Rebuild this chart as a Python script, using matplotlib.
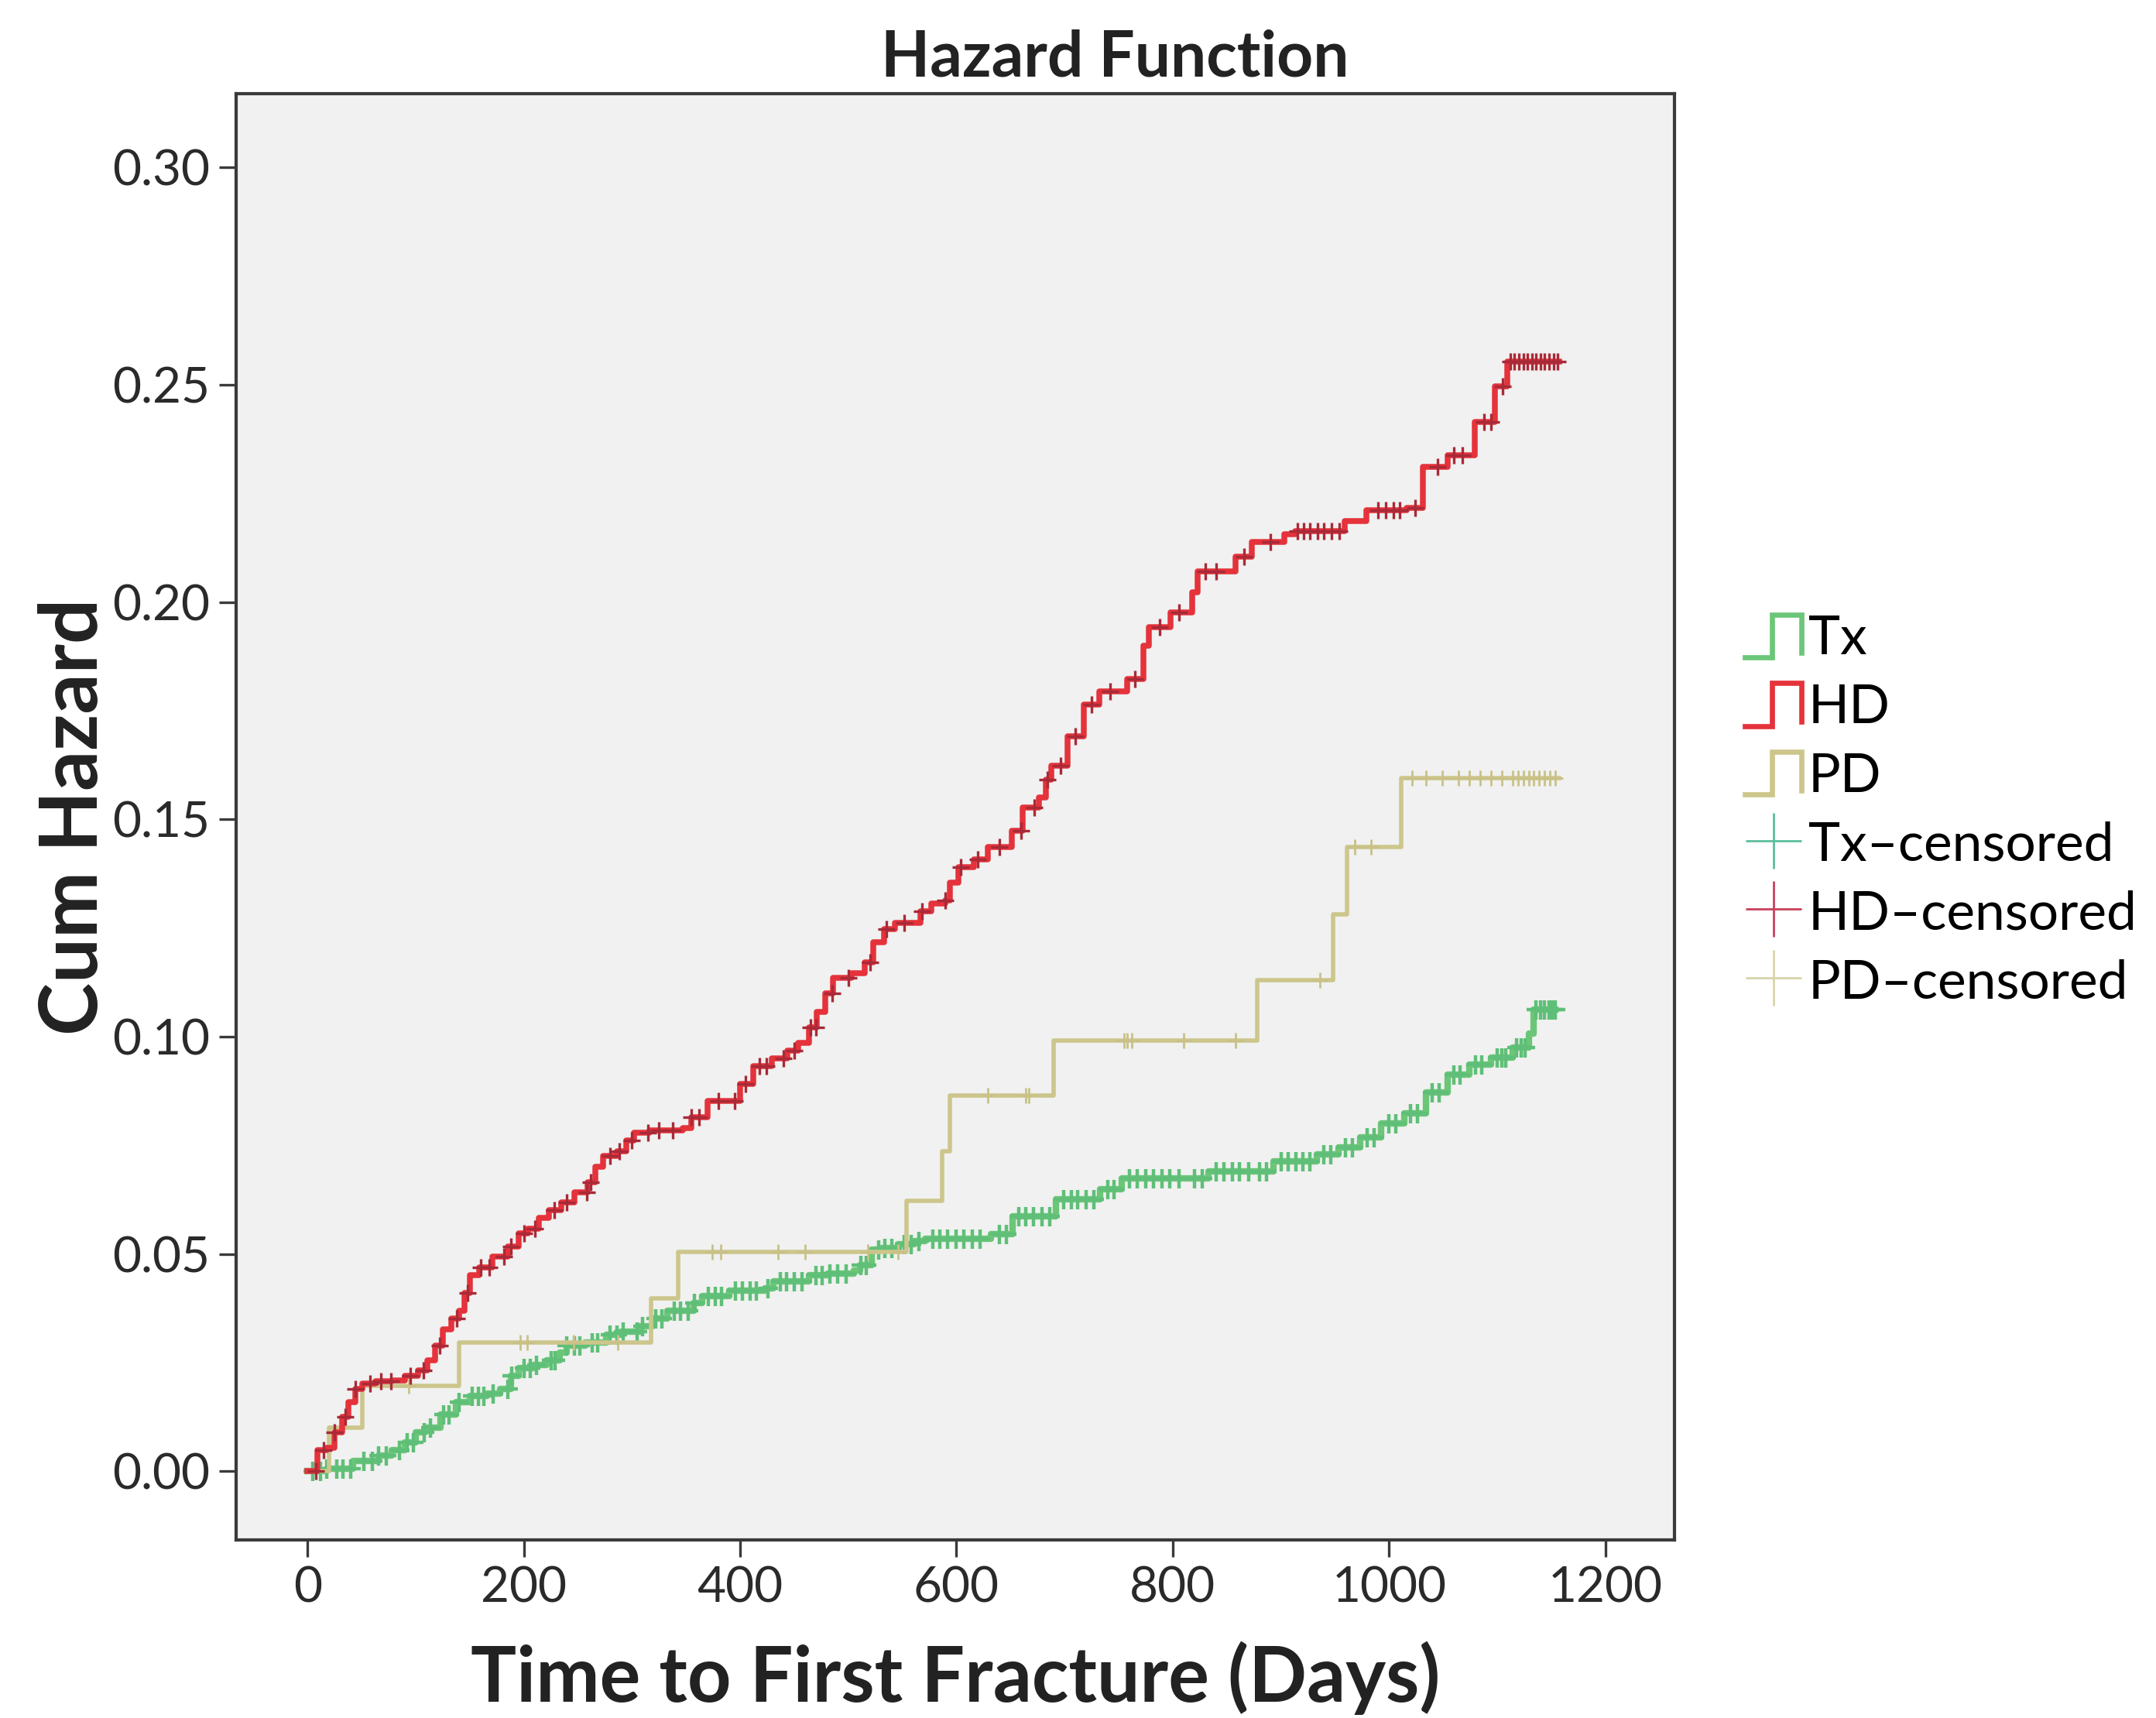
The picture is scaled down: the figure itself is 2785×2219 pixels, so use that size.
import numpy as np
import matplotlib
matplotlib.use("Agg")
import matplotlib.pyplot as plt
from matplotlib.lines import Line2D
from matplotlib.legend_handler import HandlerBase

# Step points (day, cumulative hazard)
tx_t = [0, 18, 42, 66, 78, 90, 100, 109, 123, 137, 150, 166, 178, 188, 195, 209, 221, 233, 240,
        257, 276, 290, 307, 319, 333, 357, 365, 390, 423, 431, 464, 481, 505, 511, 522, 531,
        546, 561, 571, 632, 652, 692, 733, 753, 833, 893, 933, 953, 973, 993, 1014, 1034, 1054,
        1074, 1094, 1114, 1129, 1134, 1154]
tx_h = [0, 0.0006, 0.0024, 0.0036, 0.0048, 0.0066, 0.0089, 0.0101, 0.0130, 0.0160, 0.0173,
        0.0178, 0.0190, 0.0220, 0.0237, 0.0244, 0.0255, 0.0273, 0.0290, 0.0297, 0.0315, 0.0321,
        0.0333, 0.0351, 0.0369, 0.0387, 0.0404, 0.0416, 0.0422, 0.0437, 0.0451, 0.0455, 0.0463,
        0.0474, 0.0511, 0.0514, 0.0523, 0.0529, 0.0535, 0.0545, 0.0586, 0.0626, 0.0649, 0.0674,
        0.0690, 0.0713, 0.0729, 0.0745, 0.0768, 0.0800, 0.0824, 0.0872, 0.0913, 0.0936, 0.0952,
        0.0975, 0.1007, 0.1063, 0.1063]

hd_t = [0, 9, 18, 25, 32, 38, 44, 51, 63, 78, 90, 102, 111, 118, 125, 133, 140, 145, 150, 159,
        171, 185, 195, 204, 214, 223, 235, 247, 259, 266, 273, 286, 295, 302, 316, 347, 355, 370,
        400, 412, 429, 444, 454, 464, 471, 479, 486, 503, 515, 523, 533, 543, 567, 577, 590, 594,
        602, 616, 629, 651, 661, 676, 683, 688, 703, 718, 732, 758, 773, 778, 798, 818, 823,
        858, 873, 903, 913, 959, 979, 1016, 1031, 1054, 1079, 1098, 1109, 1157]
hd_h = [0, 0.0048, 0.0054, 0.0089, 0.0125, 0.0160, 0.0190, 0.0202, 0.0208, 0.0210, 0.0220,
        0.0232, 0.0255, 0.0290, 0.0326, 0.0351, 0.0369, 0.0410, 0.0451, 0.0469, 0.0494, 0.0517,
        0.0547, 0.0558, 0.0583, 0.0601, 0.0619, 0.0642, 0.0665, 0.0701, 0.0725, 0.0736, 0.0761,
        0.0779, 0.0784, 0.0790, 0.0814, 0.0853, 0.0891, 0.0932, 0.0950, 0.0968, 0.0986, 0.1021,
        0.1057, 0.1100, 0.1135, 0.1147, 0.1171, 0.1218, 0.1248, 0.1262, 0.1289, 0.1307, 0.1313,
        0.1355, 0.1390, 0.1408, 0.1437, 0.1474, 0.1528, 0.1551, 0.1592, 0.1624, 0.1692, 0.1765,
        0.1795, 0.1824, 0.1899, 0.1943, 0.1977, 0.2023, 0.2071, 0.2105, 0.2138, 0.2157, 0.2164,
        0.2186, 0.2212, 0.2216, 0.2312, 0.2338, 0.2415, 0.2496, 0.2553, 0.2553]

pd_t = [0, 20, 51, 140, 318, 343, 554, 587, 594, 690, 878, 948, 961, 1011, 1157]
pd_h = [0, 0.0101, 0.0196, 0.0297, 0.0398, 0.0505, 0.0622, 0.0737, 0.0864, 0.0991, 0.1131,
        0.1282, 0.1437, 0.1595, 0.1595]

# censored times
tx_cens = [5, 12, 18, 27, 33, 40, 52, 60, 66, 73, 85, 92, 98, 108, 114, 126, 131, 140, 152, 158,
           163, 172, 185, 189, 200, 206, 212, 225, 229, 240, 247, 252, 263, 268, 280, 286, 292,
           305, 310, 322, 328, 339, 345, 352, 358, 371, 377, 383, 396, 402, 409, 415, 426, 437,
           443, 450, 457, 470, 476, 483, 490, 498, 512, 517, 528, 534, 540, 552, 558, 565, 578,
           585, 592, 600, 607, 615, 622, 640, 646, 658, 664, 671, 679, 686, 699, 706, 712, 720,
           727, 740, 746, 760, 767, 775, 782, 790, 797, 806, 820, 827, 840, 847, 855, 862, 870,
           880, 887, 900, 907, 914, 920, 927, 940, 946, 960, 966, 980, 986, 1000, 1006, 1020,
           1026, 1040, 1046, 1060, 1066, 1080, 1086, 1100, 1104, 1108, 1118, 1122, 1126, 1136,
           1140, 1144, 1148, 1151, 1154]
hd_cens = [8, 15, 25, 35, 44, 58, 68, 77, 95, 107, 122, 138, 148, 160, 168, 182, 188, 200, 210,
           228, 240, 258, 262, 280, 288, 300, 315, 325, 338, 355, 362, 380, 395, 405, 418, 424,
           440, 450, 465, 470, 485, 500, 520, 535, 552, 568, 590, 604, 620, 640, 660, 672, 684,
           696, 710, 725, 742, 765, 788, 806, 830, 840, 866, 890, 915, 921, 927, 934, 940, 947,
           954, 990, 997, 1004, 1010, 1024, 1045, 1060, 1068, 1088, 1094, 1105, 1112, 1116, 1120,
           1124, 1128, 1132, 1136, 1140, 1144, 1148, 1152, 1156]
pd_cens = [94, 197, 203, 246, 287, 374, 382, 435, 460, 518, 546, 629, 664, 667, 755, 758, 762,
           810, 858, 936, 968, 983, 1021, 1034, 1049, 1064, 1074, 1084, 1094, 1104, 1114, 1119,
           1124, 1129, 1134, 1139, 1144, 1149, 1154]

labels = ["Tx", "HD", "PD", "Tx\u2013censored", "HD\u2013censored", "PD\u2013censored"]
x_ticks = [0, 200, 400, 600, 800, 1000, 1200]
y_ticks = [0.00, 0.05, 0.10, 0.15, 0.20, 0.25, 0.30]

c_tx, c_hd, c_pd = "#6cc678", "#e5323b", "#cdc68c"
m_tx, m_hd, m_pd = "#5fbf78", "#a82a38", "#c9c187"
l_tx, l_hd, l_pd = "#5cbf9c", "#c8405c", "#d8d4ac"

plt.rcParams["font.family"] = ["Lato", "DejaVu Sans"]


def value_at(ts, hs, c):
    i = np.searchsorted(ts, c, side="right") - 1
    return np.asarray(hs)[i]


class StepHandler(HandlerBase):
    def create_artists(self, legend, orig_handle, xdescent, ydescent, width, height, fontsize, trans):
        x0 = -xdescent
        x1 = x0 + width
        xm = x0 + 0.48 * width
        y0 = -ydescent
        y1 = -ydescent + height
        ln = Line2D([x0, xm, xm, x1, x1], [y0, y0, y1, y1, y0 + 0.1 * height],
                    color=orig_handle.get_color(), lw=orig_handle.get_linewidth(),
                    solid_joinstyle="miter")
        ln.set_transform(trans)
        return [ln]


fig = plt.figure(figsize=(13.925, 11.095), dpi=200)
ax = fig.add_axes([0.1095, 0.1036, 0.6672, 0.8419])
ax.set_facecolor("#f0f1f0")

ax.step(tx_t, tx_h, where="post", color=c_tx, lw=3.0, zorder=2)
ax.step(pd_t, pd_h, where="post", color=c_pd, lw=2.0, zorder=3)
ax.step(hd_t, hd_h, where="post", color=c_hd, lw=2.7, zorder=4)

ax.plot(tx_cens, value_at(tx_t, tx_h, tx_cens), "+", color=m_tx, ms=9, mew=1.6, zorder=2)
ax.plot(pd_cens, value_at(pd_t, pd_h, pd_cens), "+", color=m_pd, ms=7, mew=1.0, zorder=3)
ax.plot(hd_cens, value_at(hd_t, hd_h, hd_cens), "+", color=m_hd, ms=8, mew=1.2, zorder=4)

ax.set_xlim(-66, 1264)
ax.set_ylim(-0.0158, 0.317)
ax.set_xticks(x_ticks)
ax.set_yticks(y_ticks)
ax.set_yticklabels([f"{v:.2f}" for v in y_ticks])
ax.tick_params(direction="out", length=8, width=1.2, color="#3a3a3a", labelsize=23,
               labelcolor="#2a2a2a", pad=4)
for s in ax.spines.values():
    s.set_color("#3a3a3a")
    s.set_linewidth(1.5)

ax.set_xlabel("Time to First Fracture (Days)", fontsize=35.5, fontweight="bold",
              color="#222222", labelpad=14)
ax.set_ylabel("Cum Hazard", fontsize=37, fontweight="bold", color="#222222")
ax.yaxis.set_label_coords(-0.087, 0.5)
fig.text(0.517, 0.966, "Hazard Function", ha="center", va="center", fontsize=29.5,
         fontweight="bold", color="#222222")

handles = [Line2D([], [], color=c_tx, lw=2.4), Line2D([], [], color=c_hd, lw=2.4),
           Line2D([], [], color=c_pd, lw=2.4),
           Line2D([], [], color=l_tx, marker="+", ms=26, mew=1.0, ls="None"),
           Line2D([], [], color=l_hd, marker="+", ms=26, mew=1.0, ls="None"),
           Line2D([], [], color=l_pd, marker="+", ms=26, mew=1.0, ls="None")]
step_h = StepHandler()
fig.legend(handles, labels, loc="upper left", bbox_to_anchor=(0.797, 0.658),
           frameon=False, fontsize=25, handlelength=1.05, handleheight=0.85,
           handletextpad=0.12, labelspacing=0.36, borderpad=0, numpoints=1,
           handler_map={handles[0]: step_h, handles[1]: step_h, handles[2]: step_h})

fig.savefig("out.png", dpi=200, facecolor="white")
